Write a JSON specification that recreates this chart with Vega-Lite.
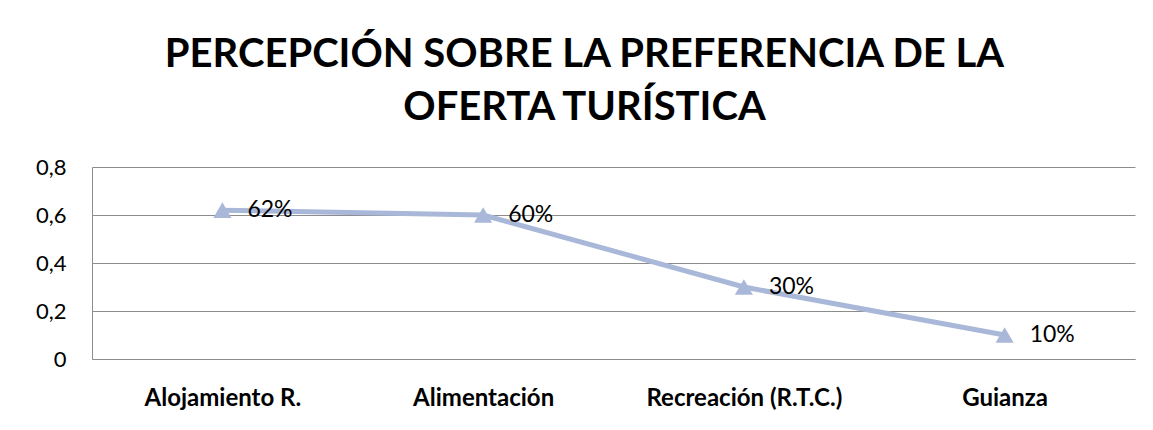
{
  "$schema": "https://vega.github.io/schema/vega-lite/v6.json",
  "width": 1043,
  "height": 192,
  "autosize": {"type": "none"},
  "padding": {"left": 92, "top": 167, "right": 18, "bottom": 71},
  "background": "white",
  "title": {
    "text": ["PERCEPCIÓN SOBRE LA PREFERENCIA DE LA", "OFERTA TURÍSTICA"],
    "font": "Lato",
    "fontSize": 40,
    "fontWeight": "bold",
    "color": "black",
    "lineHeight": 53,
    "anchor": "middle",
    "dx": -29,
    "offset": 28
  },
  "data": {
    "values": [
      {"categoria": "Alojamiento R.", "valor": 0.62, "etiqueta": "62%"},
      {"categoria": "Alimentación", "valor": 0.60, "etiqueta": "60%"},
      {"categoria": "Recreación (R.T.C.)", "valor": 0.30, "etiqueta": "30%"},
      {"categoria": "Guianza", "valor": 0.10, "etiqueta": "10%"}
    ]
  },
  "encoding": {
    "x": {
      "field": "categoria",
      "type": "nominal",
      "sort": null,
      "scale": {"type": "point", "padding": 0.5},
      "axis": {
        "title": null,
        "labelAngle": 0,
        "labelFont": "Lato",
        "labelFontSize": 24,
        "labelFontWeight": "bold",
        "labelColor": "black",
        "labelPadding": 27,
        "labelLimit": 400,
        "labelOverlap": false,
        "ticks": false,
        "domain": true,
        "domainColor": "#8c8c8c",
        "grid": false
      }
    },
    "y": {
      "field": "valor",
      "type": "quantitative",
      "scale": {"domain": [0, 0.8]},
      "axis": {
        "title": null,
        "values": [0, 0.2, 0.4, 0.6, 0.8],
        "labelExpr": "replace(format(datum.value, '.1~f'), '.', ',')",
        "labelFont": "Lato",
        "labelFontSize": 22,
        "labelColor": "black",
        "labelPadding": 26,
        "ticks": false,
        "domain": true,
        "domainColor": "#8c8c8c",
        "grid": true,
        "gridColor": "#8c8c8c",
        "gridOpacity": 1
      }
    }
  },
  "layer": [
    {
      "mark": {"type": "line", "color": "#a9b8d8", "strokeWidth": 5}
    },
    {
      "mark": {"type": "point", "shape": "triangle-up", "filled": true, "opacity": 1, "color": "#a9b8d8", "size": 330}
    },
    {
      "mark": {"type": "text", "align": "left", "baseline": "middle", "dx": 25, "font": "Lato", "fontSize": 23, "color": "black"},
      "encoding": {"text": {"field": "etiqueta"}}
    }
  ],
  "config": {
    "view": {"stroke": null}
  }
}
